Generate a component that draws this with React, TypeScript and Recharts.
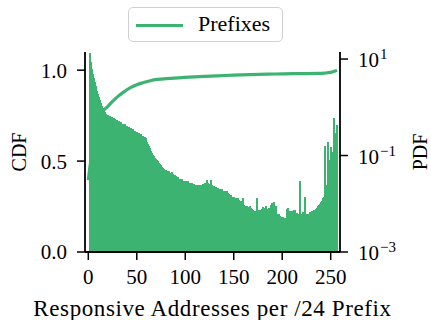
import { ComposedChart, Bar, Line, XAxis, YAxis } from 'recharts';

// histogram: responsive addresses per /24 (bins 2..256), PDF in log scale
const bins = Array.from({ length: 255 }, (_, i) => i + 2);

const pdfValues = [
  // 2-20
  13.5, 8.5, 6.2, 5.0, 4.0, 3.3, 2.7, 2.2, 1.9, 1.6, 1.4, 1.2, 1.05, 0.95, 0.85, 0.78, 0.74, 0.68, 0.7,
  // 21-40
  0.62, 0.66, 0.58, 0.63, 0.56, 0.6, 0.53, 0.57, 0.51, 0.54, 0.48, 0.52, 0.45, 0.49, 0.43, 0.46, 0.41, 0.44, 0.39, 0.41,
  // 41-60
  0.37, 0.39, 0.35, 0.37, 0.33, 0.35, 0.31, 0.33, 0.3, 0.31, 0.29, 0.3, 0.27, 0.28, 0.26, 0.26, 0.245, 0.24, 0.23, 0.21,
  // 61-80
  0.19, 0.175, 0.155, 0.14, 0.125, 0.112, 0.102, 0.096, 0.09, 0.085, 0.08, 0.076, 0.071, 0.068, 0.063, 0.058, 0.055, 0.053, 0.05, 0.049,
  // 81-100
  0.047, 0.046, 0.047, 0.044, 0.043, 0.046, 0.041, 0.04, 0.039, 0.037, 0.036, 0.035, 0.036, 0.033, 0.032, 0.031, 0.032, 0.03, 0.03, 0.029,
  // 101-120
  0.029, 0.028, 0.029, 0.027, 0.027, 0.026, 0.027, 0.025, 0.026, 0.025, 0.024, 0.024, 0.025, 0.023, 0.024, 0.025, 0.024, 0.026, 0.025, 0.027,
  // 121-140
  0.025, 0.031, 0.027, 0.024, 0.026, 0.025, 0.031, 0.024, 0.023, 0.023, 0.022, 0.022, 0.021, 0.021, 0.02, 0.02, 0.019, 0.02, 0.018, 0.018,
  // 141-160
  0.018, 0.017, 0.018, 0.017, 0.016, 0.015, 0.015, 0.014, 0.0135, 0.014, 0.013, 0.013, 0.012, 0.013, 0.012, 0.011, 0.0115, 0.01, 0.0105, 0.013,
  // 161-180
  0.0095, 0.009, 0.0088, 0.0092, 0.0085, 0.0082, 0.0088, 0.008, 0.0078, 0.0074, 0.0071, 0.0068, 0.0072, 0.013, 0.0069, 0.0075, 0.0074, 0.0065, 0.0078, 0.0084,
  // 181-200
  0.0066, 0.0082, 0.0088, 0.0079, 0.0059, 0.0083, 0.0062, 0.0095, 0.0105, 0.0058, 0.0098, 0.011, 0.0055, 0.009, 0.0062, 0.0058, 0.006, 0.0055, 0.0052, 0.0054,
  // 201-220
  0.0054, 0.0049, 0.005, 0.005, 0.0078, 0.008, 0.0058, 0.0072, 0.0062, 0.007, 0.0052, 0.0075, 0.0075, 0.0048, 0.0065, 0.006, 0.0058, 0.029, 0.0058, 0.006,
  // 221-240
  0.0068, 0.0055, 0.0064, 0.0135, 0.0052, 0.006, 0.0062, 0.0058, 0.0066, 0.0065, 0.007, 0.0068, 0.0075, 0.0074, 0.0078, 0.0082, 0.0088, 0.0095, 0.01, 0.0108,
  // 241-256
  0.0115, 0.013, 0.014, 0.16, 0.019, 0.025, 0.19, 0.081, 0.06, 0.15, 0.12, 0.1, 0.59, 0.3, 0.19, 0.43,
];

// CDF curve points
const cdfX = [0, 1, 2, 4, 6, 8, 10, 12, 14, 16, 20, 25, 30, 36, 44, 50, 57, 64, 71, 85, 99, 115, 133, 150, 167, 185, 202, 220, 236, 244, 250, 254, 256.5];
const cdfY = [0.395, 0.44, 0.48, 0.55, 0.61, 0.66, 0.7, 0.73, 0.76, 0.78, 0.8, 0.828, 0.853, 0.878, 0.905, 0.92, 0.932, 0.942, 0.949, 0.955, 0.96, 0.965, 0.969, 0.973, 0.976, 0.978, 0.98, 0.981, 0.982, 0.984, 0.988, 0.994, 1.0];

const xTicks = [0, 50, 100, 150, 200, 250];
const cdfTicks = [0, 0.5, 1];
const pdfTicks = [0.001, 0.1, 10];

const histData = bins.map((b, i) => ({ x: b, pdf: pdfValues[i] }));
const cdfData = cdfX.map((x, i) => ({ x, cdf: cdfY[i] }));

const GREEN = '#3CB371';
const FONT = 'Liberation Serif';

// one histogram column, centred on its bin; wide + crisp so neighbours leave no seams
const HistBar = (props: any) => {
  const { x, y, width, height } = props;
  if (height == null || !isFinite(height) || height <= 0) return null;
  const cx = x + (width || 0) / 2;
  return <rect x={cx - 1} y={y} width={2} height={height} fill={GREEN} shapeRendering="crispEdges" />;
};

const PdfTick = (props: any) => {
  const { x, y, payload } = props;
  const exp = Math.round(Math.log10(payload.value));
  const sup = exp < 0 ? `\u2212${-exp}` : `${exp}`;
  return (
    <text x={x} y={y} dy={8} fontSize={21} fontFamily={FONT} fill="#000" textAnchor="start">
      <tspan>10</tspan>
      <tspan dy={-8} dx={1} fontSize={15}>{sup}</tspan>
    </text>
  );
};

const SideTitle = (props: any) => {
  const { viewBox, value, side } = props;
  const cx = side === 'left' ? viewBox.x + 19 : viewBox.x + viewBox.width - 11;
  const cy = viewBox.y + viewBox.height / 2;
  return (
    <text
      x={cx}
      y={cy}
      transform={`rotate(-90, ${cx}, ${cy})`}
      textAnchor="middle"
      dominantBaseline="central"
      fontSize={20}
      fontFamily={FONT}
      fill="#000"
    >
      {value}
    </text>
  );
};

const axisLine = { stroke: '#000', strokeWidth: 1.8 };
const tickLine = { stroke: '#000', strokeWidth: 1.5 };
const tickStyle = { fontSize: 21, fontFamily: FONT, fill: '#000' };

export default function App() {
  return (
    <div style={{ position: 'absolute', left: 0, top: 0, width: 431, height: 320, background: '#fff', fontFamily: FONT }}>
      <ComposedChart
        width={431}
        height={320}
        data={histData}
        margin={{ top: 52, right: 0, bottom: 0, left: 0 }}
        barCategoryGap={0}
        barGap={0}
      >
        <XAxis
          dataKey="x"
          type="number"
          domain={[-3.4, 259.6]}
          allowDataOverflow
          ticks={xTicks}
          height={68}
          tickSize={8}
          tickMargin={9}
          axisLine={axisLine}
          tickLine={tickLine}
          tick={tickStyle}
          label={{
            value: 'Responsive Addresses per /24 Prefix',
            position: 'insideBottom',
            offset: 4,
            fontSize: 23,
            fontFamily: FONT,
            fill: '#000',
            letterSpacing: 0.6,
          }}
        />
        <XAxis
          xAxisId="top"
          orientation="top"
          type="number"
          domain={[-3.4, 259.6]}
          height={0}
          tick={false}
          tickLine={false}
          axisLine={axisLine}
        />
        <YAxis
          yAxisId="cdf"
          orientation="left"
          domain={[0, 1.1]}
          ticks={cdfTicks}
          width={85}
          tickSize={8}
          tickMargin={10}
          tickFormatter={(v: number) => v.toFixed(1)}
          axisLine={axisLine}
          tickLine={tickLine}
          tick={tickStyle}
          label={<SideTitle value="CDF" side="left" />}
        />
        <YAxis
          yAxisId="pdf"
          orientation="right"
          scale="log"
          domain={[0.001, 14]}
          allowDataOverflow
          ticks={pdfTicks}
          width={91}
          tickSize={8}
          tickMargin={10}
          axisLine={axisLine}
          tickLine={tickLine}
          tick={<PdfTick />}
          label={<SideTitle value="PDF" side="right" />}
        />
        <Line
          yAxisId="cdf"
          data={cdfData}
          dataKey="cdf"
          type="monotone"
          stroke={GREEN}
          strokeWidth={3.2}
          dot={false}
          activeDot={false}
          isAnimationActive={false}
          zIndex={250}
        />
        <Bar
          yAxisId="pdf"
          dataKey="pdf"
          fill={GREEN}
          shape={<HistBar />}
          isAnimationActive={false}
          zIndex={300}
        />
      </ComposedChart>
      <div
        style={{
          position: 'absolute',
          left: 128,
          top: 7,
          width: 153,
          height: 33,
          border: '1.5px solid #d0d0d0',
          borderRadius: 5,
          background: '#fff',
          boxSizing: 'content-box',
        }}
      >
        <div style={{ position: 'absolute', left: 7, top: 16, width: 47, height: 3, background: GREEN }} />
        <div style={{ position: 'absolute', left: 69, top: 3, fontSize: 22, lineHeight: '26px', color: '#000' }}>
          Prefixes
        </div>
      </div>
    </div>
  );
}
